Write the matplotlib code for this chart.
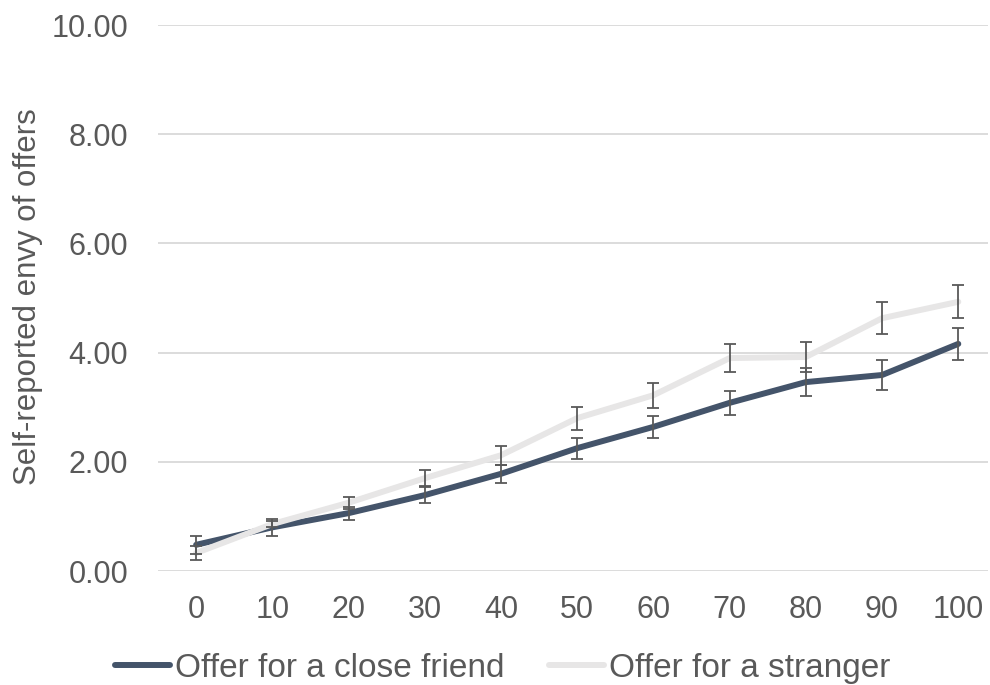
import matplotlib
matplotlib.use("Agg")
import matplotlib.pyplot as plt
import numpy as np

# offer amounts on the x axis
offers = [0, 10, 20, 30, 40, 50, 60, 70, 80, 90, 100]

# mean envy ratings and standard errors
friend_mean = [0.48, 0.80, 1.06, 1.39, 1.78, 2.25, 2.64, 3.08, 3.46, 3.59, 4.16]
friend_err = [0.16, 0.15, 0.12, 0.14, 0.16, 0.19, 0.20, 0.22, 0.25, 0.27, 0.29]
stranger_mean = [0.33, 0.86, 1.25, 1.70, 2.12, 2.80, 3.22, 3.90, 3.92, 4.63, 4.93]
stranger_err = [0.13, 0.05, 0.11, 0.15, 0.17, 0.21, 0.23, 0.25, 0.27, 0.29, 0.30]

y_ticks = [0, 2, 4, 6, 8, 10]

TEXT = "#595959"
FONT = ["Liberation Sans", "Arimo", "DejaVu Sans"]

fig = plt.figure(figsize=(9.9, 6.85), dpi=100)
ax = fig.add_axes([0.1596, 0.1664, 0.8384, 0.7971])

pos = np.arange(len(offers))

ax.plot(pos, friend_mean, color="#44546A", lw=4.3, solid_capstyle="round",
        label="Offer for a close friend", zorder=3)
ax.plot(pos, stranger_mean, color="#E7E6E6", lw=4.3, solid_capstyle="round",
        label="Offer for a stranger", zorder=3)
for m, e in ((friend_mean, friend_err), (stranger_mean, stranger_err)):
    ax.errorbar(pos, m, yerr=e, fmt="none", ecolor=TEXT, elinewidth=1.3,
                capsize=4, capthick=1.3, zorder=4)

ax.set_xlim(-0.5, 10.39)
ax.set_ylim(0, 10)
ax.set_yticks(y_ticks)
ax.set_yticklabels([f"{v:.2f}" for v in y_ticks], family=FONT,
                   fontsize=22, color=TEXT)
ax.set_xticks(pos)
ax.set_xticklabels([str(o) for o in offers], family=FONT, fontsize=22,
                   color=TEXT)
ax.tick_params(axis="both", length=0)
ax.tick_params(axis="y", pad=21.5)
ax.tick_params(axis="x", pad=17)

ax.grid(axis="y", color="#D9D9D9", lw=1.3)
ax.set_axisbelow(True)
for s in ax.spines.values():
    s.set_visible(False)

ax.set_ylabel("Self-reported envy of offers", family=FONT, fontsize=22.5,
              color=TEXT)
ax.yaxis.set_label_coords(-0.138, 0.503)

leg = ax.legend(loc="center", bbox_to_anchor=(0.415, -0.178), ncol=2,
                frameon=False, handlelength=1.65, handletextpad=0.15,
                columnspacing=1.35, prop={"family": FONT, "size": 24})
for t in leg.get_texts():
    t.set_color(TEXT)

fig.savefig("out.png", dpi=100)
